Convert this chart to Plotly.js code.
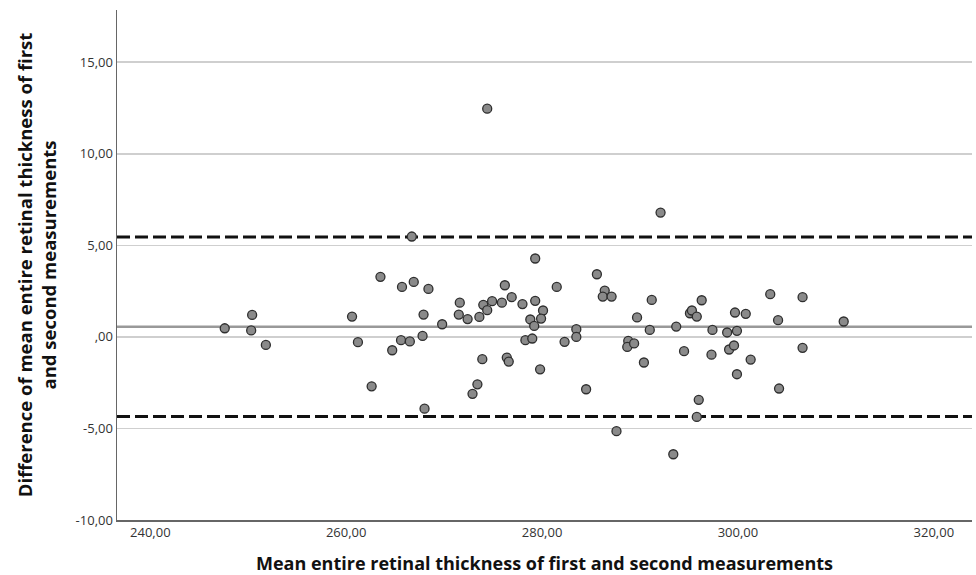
<!DOCTYPE html>
<html><head><meta charset="utf-8">
<script src="https://cdn.plot.ly/plotly-3.0.1.min.js"></script>
<style>html,body{margin:0;padding:0;background:#fff}#chart{width:976px;height:575px}</style>
</head><body><div id="chart"></div>
<script>
const meanValues = [247.6,250.4,250.3,251.8,260.6,261.2,263.5,264.7,262.6,265.6,265.7,266.9,266.7,266.5,268.4,267.9,267.8,268.0,269.8,271.6,271.5,272.4,273.6,274.0,274.4,274.9,275.9,276.2,276.9,278.0,279.3,279.3,280.1,279.9,278.8,279.2,278.3,279.0,273.9,276.4,276.6,279.8,273.4,272.9,281.5,282.3,283.5,283.5,274.4,292.1,285.6,286.4,286.2,287.1,291.2,289.7,291.0,288.8,288.7,289.4,290.4,284.5,287.6,293.4,293.7,294.5,295.1,295.3,295.8,296.3,297.4,297.3,296.0,295.8,298.9,299.9,299.7,300.8,299.1,299.6,299.9,301.3,303.3,306.6,304.1,310.8,306.6,304.2];
const diffValues = [0.47,1.2,0.35,-0.44,1.11,-0.29,3.28,-0.73,-2.7,-0.18,2.73,3.0,5.48,-0.25,2.62,1.22,0.05,-3.92,0.69,1.87,1.22,0.97,1.09,1.75,1.46,1.95,1.87,2.82,2.17,1.79,4.28,1.97,1.44,1.0,0.95,0.6,-0.18,-0.09,-1.22,-1.13,-1.35,-1.77,-2.59,-3.11,2.73,-0.27,0.42,0.0,12.46,6.79,3.42,2.53,2.2,2.2,2.02,1.06,0.38,-0.22,-0.55,-0.36,-1.40,-2.86,-5.15,-6.41,0.56,-0.78,1.29,1.44,1.11,2.0,0.38,-0.97,-3.44,-4.37,0.24,0.33,1.33,1.26,-0.69,-0.47,-2.04,-1.24,2.33,2.17,0.91,0.84,-0.60,-2.82];
const meanDiff = 0.55;
const upperLoA = 5.45;
const lowerLoA = -4.35;
const xTickVals = [240,260,280,300,320];
const xTickText = ["240,00","260,00","280,00","300,00","320,00"];
const yTickVals = [-10,-5,0,5,10,15];
const yTickText = ["-10,00","-5,00",",00","5,00","10,00","15,00"];

const font = "Open Sans, Noto Sans, sans-serif";
const trace = {
  x: meanValues, y: diffValues, type: 'scatter', mode: 'markers',
  marker: {size: 9, color: '#8a8a8a', line: {color: '#2e2e2e', width: 1.3}},
  hoverinfo: 'skip', cliponaxis: false
};
const layout = {
  width: 976, height: 575,
  margin: {l: 117, r: 4, t: 10, b: 55},
  paper_bgcolor: '#fff', plot_bgcolor: '#fff',
  showlegend: false,
  font: {family: font, color: '#333'},
  xaxis: {
    range: [236.6, 323.9], tickvals: xTickVals, ticktext: xTickText,
    showgrid: false, zeroline: false, showline: true, linecolor: '#666', linewidth: 1.5,
    ticks: '', tickfont: {size: 13, color: '#333'},
    title: {text: 'Mean entire retinal thickness of first and second measurements',
      font: {size: 18, color: '#111', weight: 'bold'}, standoff: 18}
  },
  yaxis: {
    range: [-10, 17.85], tickvals: yTickVals, ticktext: yTickText,
    showgrid: true, gridcolor: '#cfcfcf', gridwidth: 1.5, zeroline: false,
    showline: true, linecolor: '#666', linewidth: 1.5,
    ticks: '', tickfont: {size: 13, color: '#333'},
    title: {text: 'Difference of mean entire retinal thickness of first<br>and second measurements',
      font: {size: 18.5, color: '#111', weight: 'bold'}, standoff: 14}
  },
  shapes: [
    {type: 'line', xref: 'paper', x0: 0, x1: 1, yref: 'y', y0: meanDiff, y1: meanDiff,
      line: {color: '#999', width: 2.5}, layer: 'below'},
    {type: 'line', xref: 'paper', x0: 0, x1: 1, yref: 'y', y0: upperLoA, y1: upperLoA,
      line: {color: '#111', width: 3, dash: '13px,5px'}, layer: 'below'},
    {type: 'line', xref: 'paper', x0: 0, x1: 1, yref: 'y', y0: lowerLoA, y1: lowerLoA,
      line: {color: '#111', width: 3, dash: '13px,5px'}, layer: 'below'}
  ]
};
Plotly.newPlot('chart', [trace], layout, {displayModeBar: false, staticPlot: true});
</script></body></html>
